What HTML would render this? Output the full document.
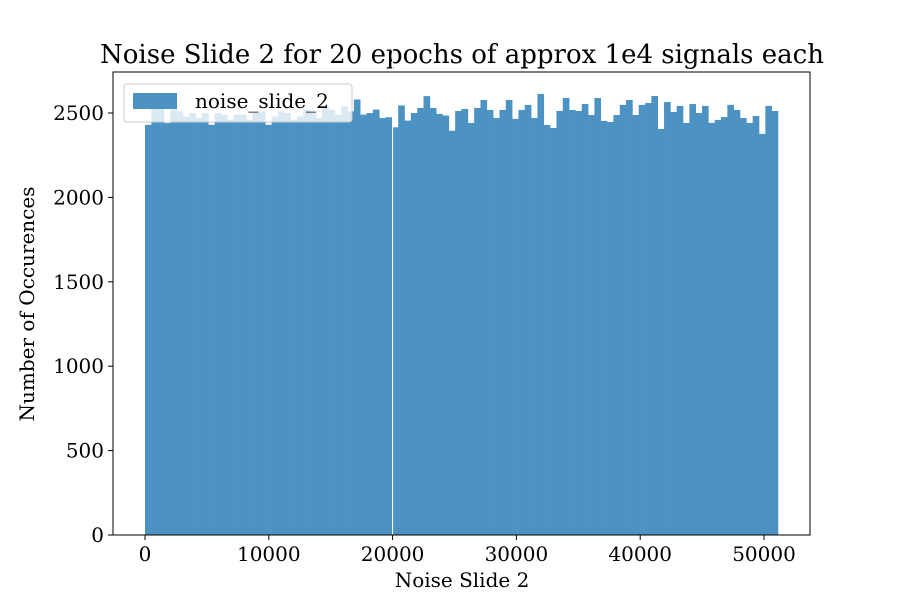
<!DOCTYPE html>
<html><head><meta charset="utf-8"><style>
body{margin:0;background:#fff}
text{font-family:"DejaVu Serif","Liberation Serif",serif;fill:#000}
</style></head><body>
<svg id="c" width="900" height="600">
<rect x="0" y="0" width="900" height="600" fill="#fff"/>
<text x="462" y="63" font-size="26" text-anchor="middle">Noise Slide 2 for 20 epochs of approx 1e4 signals each</text>
<g id="bars"></g>
<g id="axes"></g>
<text x="462" y="587" font-size="20" text-anchor="middle">Noise Slide 2</text>
<text transform="translate(34,304) rotate(-90)" font-size="20" text-anchor="middle">Number of Occurences</text>
<g>
<rect x="124" y="84" width="228" height="38" rx="3" fill="#fff" fill-opacity="0.8" stroke="#ccc"/>
<rect x="133" y="93" width="44" height="16" fill="#4c92c3"/>
<text x="195" y="108" font-size="20">noise_slide_2</text>
</g>
</svg>
<script>
const binStart = 0;
const binWidth = 511.3;
const counts = [2430,2530,2530,2440,2520,2510,2480,2500,2470,2500,2430,2500,2490,2460,2490,2490,2460,2500,2510,2430,2480,2510,2500,2460,2480,2520,2500,2470,2540,2520,2490,2540,2510,
2580,2490,2500,2520,2470,2475,2415,2545,2455,2500,2530,2600,2530,2495,2485,2395,
2512,2524,2441,2530,2577,2518,2470,2518,2577,2465,2518,2548,2470,2613,2429,2411,2512,2589,2518,2512,2553,2488,2589,2453,2447,2488,2548,2577,2488,2548,2559,2601,2405,2565,2506,2542,2441,2553,2500,2542,2441,2459,2476,2548,2518,2470,2441,2482,2376,2542,2512];
const xTicks = [0,10000,20000,30000,40000,50000];
const yTicks = [0,500,1000,1500,2000,2500];
const L=113,R=810,T=72,B=535;
const xs = v => 145 + v*0.01238;
const ys = v => 535 - v*0.1688;
const NS="http://www.w3.org/2000/svg";
const bg=document.getElementById('bars'), ax=document.getElementById('axes');
counts.forEach((c,i)=>{
  const r=document.createElementNS(NS,'rect');
  const x0=xs(binStart+i*binWidth), x1=xs(binStart+(i+1)*binWidth);
  r.setAttribute('x',x0);r.setAttribute('width',x1-x0+0.3);
  r.setAttribute('y',ys(c));r.setAttribute('height',ys(0)-ys(c));
  r.setAttribute('fill','#4c92c3');
  
  
  bg.appendChild(r);
});
const wl=document.createElementNS(NS,'line');
wl.setAttribute('x1',xs(20000));wl.setAttribute('x2',xs(20000));wl.setAttribute('y1',ys(3000));wl.setAttribute('y2',B);
wl.setAttribute('stroke','#fff');wl.setAttribute('stroke-width','1');


bg.appendChild(wl);
const fr=document.createElementNS(NS,'rect');
fr.setAttribute('x',L);fr.setAttribute('y',T);fr.setAttribute('width',R-L);fr.setAttribute('height',B-T);
fr.setAttribute('fill','none');fr.setAttribute('stroke','#000');fr.setAttribute('stroke-width','1');


ax.appendChild(fr);
xTicks.forEach(v=>{
  const l=document.createElementNS(NS,'line');
  l.setAttribute('x1',xs(v));l.setAttribute('x2',xs(v));l.setAttribute('y1',B);l.setAttribute('y2',B+5);l.setAttribute('stroke','#000');
  
  
  ax.appendChild(l);
  const t=document.createElementNS(NS,'text');
  t.setAttribute('x',xs(v));t.setAttribute('y',B+26);t.setAttribute('font-size','20');t.setAttribute('text-anchor','middle');
  t.textContent=v;
  
  
  ax.appendChild(t);
});
yTicks.forEach(v=>{
  const l=document.createElementNS(NS,'line');
  l.setAttribute('x1',L-5);l.setAttribute('x2',L);l.setAttribute('y1',ys(v));l.setAttribute('y2',ys(v));l.setAttribute('stroke','#000');
  
  
  ax.appendChild(l);
  const t=document.createElementNS(NS,'text');
  t.setAttribute('x',L-9);t.setAttribute('y',ys(v)+7);t.setAttribute('font-size','20');t.setAttribute('text-anchor','end');
  t.textContent=v;
  
  
  ax.appendChild(t);
});
</script>
</body></html>
